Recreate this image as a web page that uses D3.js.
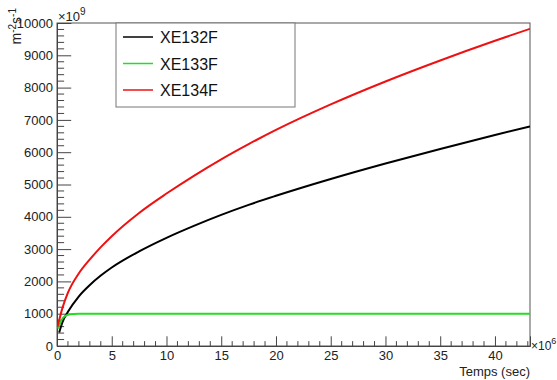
<!DOCTYPE html>
<html><head><meta charset="utf-8">
<script src="https://cdn.jsdelivr.net/npm/d3@7/dist/d3.min.js"></script>
<style>
body{margin:0;background:#fff;}
text{font-family:"Liberation Sans",Arial,Helvetica,sans-serif;}
</style></head>
<body><svg id="c" width="557" height="380"></svg>
<script>
// time in units of 10^6 sec, flux in units of 10^9 m^-2 s^-1
const seriesNames = ["XE132F", "XE133F", "XE134F"];
const seriesColors = ["#000000", "#22dd22", "#ee1111"];

const tXE132F = [0.2, 0.5, 1, 2, 3, 4, 5, 7.5, 10, 12.5, 15, 17.5, 20, 25, 30, 35, 40, 43.2];
const vXE132F = [420, 740, 1060, 1540, 1890, 2180, 2430, 2930, 3350, 3720, 4060, 4370, 4650, 5170, 5650, 6100, 6530, 6800];

const tXE133F = [0.1, 0.3, 0.5, 0.75, 1, 1.5, 2, 3, 5, 10, 20, 30, 43.2];
const vXE133F = [540, 720, 850, 930, 965, 990, 998, 1000, 1000, 1000, 1000, 1000, 1000];

const tXE134F = [0.05, 0.2, 0.5, 1, 2, 3, 4, 5, 7.5, 10, 12.5, 15, 17.5, 20, 25, 30, 35, 40, 43.2];
const vXE134F = [600, 800, 1180, 1650, 2250, 2680, 3060, 3400, 4120, 4720, 5270, 5780, 6250, 6690, 7480, 8190, 8840, 9450, 9820];

const xTicks = [0, 5, 10, 15, 20, 25, 30, 35, 40];
const yTicks = [0, 1000, 2000, 3000, 4000, 5000, 6000, 7000, 8000, 9000, 10000];

const xMax = 43.2, yMax = 10000;
const L = 57, R = 530, T = 23, B = 346;

const svg = d3.select("#c");
const x = d3.scaleLinear().domain([0, xMax]).range([L, R]);
const y = d3.scaleLinear().domain([0, yMax]).range([B, T]);

// frame
svg.append("rect").attr("x", L).attr("y", T).attr("width", R - L).attr("height", B - T)
  .attr("fill", "none").attr("stroke", "#555").attr("stroke-width", 1);

const axisColor = "#444";
const xMaj = (B - T) * 0.03, yMaj = (R - L) * 0.03;

// x axis
const gx = svg.append("g").attr("transform", `translate(0,${B})`)
  .call(d3.axisBottom(x).tickValues(xTicks).tickSize(-xMaj).tickPadding(5).tickFormat(d3.format("d")));
const xMinor = d3.range(0, 44, 1).filter(v => v % 5 !== 0 && v <= xMax);
gx.selectAll(".minor").data(xMinor).enter().append("line").attr("class", "minor")
  .attr("x1", d => x(d)).attr("x2", d => x(d)).attr("y1", 0).attr("y2", -xMaj / 2);
// y axis
const gy = svg.append("g").attr("transform", `translate(${L},0)`)
  .call(d3.axisLeft(y).tickValues(yTicks).tickSize(-yMaj).tickPadding(4).tickFormat(d3.format("d")));
const yMinor = d3.range(0, 10001, 200).filter(v => v % 1000 !== 0);
gy.selectAll(".minor").data(yMinor).enter().append("line").attr("class", "minor")
  .attr("y1", d => y(d)).attr("y2", d => y(d)).attr("x1", 0).attr("x2", yMaj / 2);

[gx, gy].forEach(g => {
  g.select(".domain").attr("stroke", axisColor);
  g.selectAll("line").attr("stroke", axisColor);
  g.selectAll("text").attr("fill", "#222").style("font-size", "13px")
    .style("font-family", '"Liberation Sans",Arial,sans-serif');
});
gy.selectAll(".tick text").attr("x", -4);

// exponent labels
const e9 = svg.append("text").attr("x", L + 1).attr("y", 21).attr("fill", "#222").style("font-size", "13px");
e9.append("tspan").text("\u00d710");
e9.append("tspan").attr("dy", -6).style("font-size", "10px").text("9");
const e6 = svg.append("text").attr("x", R + 1).attr("y", B + 4).attr("fill", "#222").style("font-size", "12px");
e6.append("tspan").text("\u00d710");
e6.append("tspan").attr("dy", -6).style("font-size", "9px").text("6");

// axis titles
svg.append("text").attr("x", R).attr("y", 376).attr("text-anchor", "end")
  .attr("fill", "#222").style("font-size", "13px").text("Temps (sec)");
const yt = svg.append("text").attr("transform", "translate(21,8) rotate(-90)")
  .attr("text-anchor", "end").attr("fill", "#222").style("font-size", "14px");
yt.append("tspan").text("m");
yt.append("tspan").attr("dy", -5).style("font-size", "10px").text("-2");
yt.append("tspan").attr("dy", 5).text("s");
yt.append("tspan").attr("dy", -5).style("font-size", "10px").text("-1");

// lines
const series = [
  {t: tXE132F, v: vXE132F},
  {t: tXE133F, v: vXE133F},
  {t: tXE134F, v: vXE134F}
];
const line = d3.line().x(d => x(d[0])).y(d => y(d[1])).curve(d3.curveMonotoneX);
svg.append("clipPath").attr("id", "pc").append("rect")
  .attr("x", L).attr("y", T).attr("width", R - L).attr("height", B - T);
series.forEach((s, i) => {
  svg.append("path").datum(s.t.map((t, j) => [t, s.v[j]]))
    .attr("d", line).attr("fill", "none").attr("stroke", seriesColors[i])
    .attr("stroke-width", 2).attr("clip-path", "url(#pc)");
});

// legend
const lg = svg.append("g");
lg.append("rect").attr("x", 116).attr("y", 23).attr("width", 179).attr("height", 84)
  .attr("fill", "#fff").attr("stroke", "#777").attr("stroke-width", 1);
seriesNames.forEach((n, i) => {
  const yy = 37 + i * 26.5;
  lg.append("line").attr("x1", 123).attr("x2", 153).attr("y1", yy).attr("y2", yy)
    .attr("stroke", seriesColors[i]).attr("stroke-width", 1.5);
  lg.append("text").attr("x", 160).attr("y", yy + 6).attr("fill", "#111")
    .style("font-size", "16px").text(n);
});
</script></body></html>
